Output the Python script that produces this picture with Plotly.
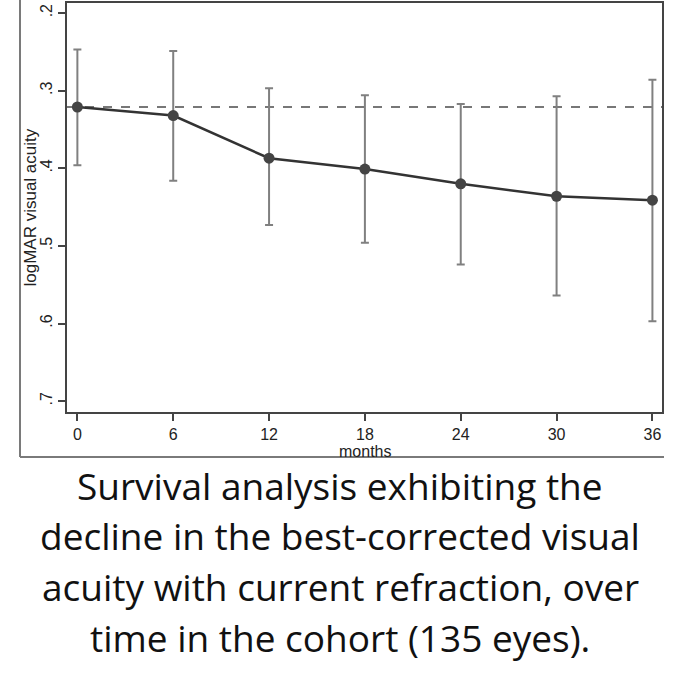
import plotly.graph_objects as go

# ---- data ----
months = [0, 6, 12, 18, 24, 30, 36]
logmar_mean = [0.321, 0.332, 0.387, 0.401, 0.420, 0.436, 0.441]
ci_upper_better = [0.247, 0.249, 0.297, 0.306, 0.317, 0.307, 0.286]   # upper whisker (lower logMAR)
ci_lower_worse = [0.396, 0.416, 0.473, 0.496, 0.524, 0.564, 0.597]    # lower whisker (higher logMAR)
x_ticks = [0, 6, 12, 18, 24, 30, 36]
y_ticks = [0.2, 0.3, 0.4, 0.5, 0.6, 0.7]
y_ticklabels = [".2", ".3", ".4", ".5", ".6", ".7"]
caption_lines = [
    "Survival analysis exhibiting the",
    "decline in the best-corrected visual",
    "acuity with current refraction, over",
    "time in the cohort (135 eyes).",
]
baseline = logmar_mean[0]

W = H = 680
L, R, T, B = 67, 18, 3, 268
plot_h = H - T - B
plot_w = W - L - R


def py(ypix):
    return (H - B - ypix) / plot_h


def px(xpix):
    return (xpix - L) / plot_w


err_plus = [lo - m for lo, m in zip(ci_lower_worse, logmar_mean)]
err_minus = [m - up for up, m in zip(ci_upper_better, logmar_mean)]

fig = go.Figure()
fig.add_trace(go.Scatter(
    x=months, y=logmar_mean, mode="lines+markers",
    line=dict(color="#333333", width=2.5),
    marker=dict(color="#444444", size=11),
    error_y=dict(type="data", symmetric=False, array=err_plus, arrayminus=err_minus,
                 color="#808080", thickness=2, width=4),
    showlegend=False, hoverinfo="x+y",
))

# dashed baseline reference
fig.add_shape(type="line", xref="paper", x0=0, x1=1, yref="y", y0=baseline, y1=baseline,
              line=dict(color="#777777", width=2, dash="dash"), layer="below")

# outer frame (left and bottom edges of the original graph box)
fig.add_shape(type="line", xref="paper", yref="paper", x0=px(20), x1=px(20), y0=py(0), y1=py(457),
              line=dict(color="#7a7a7a", width=2))
fig.add_shape(type="line", xref="paper", yref="paper", x0=px(20), x1=px(664), y0=py(457), y1=py(457),
              line=dict(color="#7a7a7a", width=2))

ann = [
    dict(text="logMAR visual acuity", xref="paper", yref="paper", x=px(30), y=0.5,
         textangle=-90, showarrow=False, xanchor="center", yanchor="middle",
         font=dict(family="Liberation Sans, Arial", size=17, color="#222222")),
    dict(text="months", xref="paper", yref="paper", x=0.5, y=py(451),
         showarrow=False, xanchor="center", yanchor="middle",
         font=dict(family="Liberation Sans, Arial", size=16, color="#222222")),
]
caption_y = [485, 535, 586, 637]
for line, yc in zip(caption_lines, caption_y):
    ann.append(dict(text=line, xref="paper", yref="paper", x=px(340), y=py(yc),
                    showarrow=False, xanchor="center", yanchor="middle",
                    font=dict(family="Open Sans", size=37, color="#111111")))

fig.update_layout(
    width=W, height=H,
    margin=dict(l=L, r=R, t=T, b=B, autoexpand=False),
    paper_bgcolor="white", plot_bgcolor="white",
    annotations=ann,
    xaxis=dict(range=[-0.65, 36.6], tickvals=x_ticks, ticks="outside", ticklen=7,
               tickwidth=1.5, tickcolor="#444444", showgrid=False, zeroline=False,
               showline=True, linecolor="#444444", linewidth=2, mirror=True,
               tickfont=dict(family="Liberation Sans, Arial", size=16, color="#222222")),
    yaxis=dict(range=[0.714, 0.187], tickvals=y_ticks, ticktext=y_ticklabels,
               ticks="outside", ticklen=7, tickwidth=1.5, tickcolor="#444444",
               tickangle=-90, showgrid=False, zeroline=False,
               showline=True, linecolor="#444444", linewidth=2, mirror=True,
               tickfont=dict(family="Liberation Sans, Arial", size=16, color="#222222")),
)

fig.write_html("out.html", config={"displayModeBar": False},
               post_script="document.body.style.margin='0px';")
